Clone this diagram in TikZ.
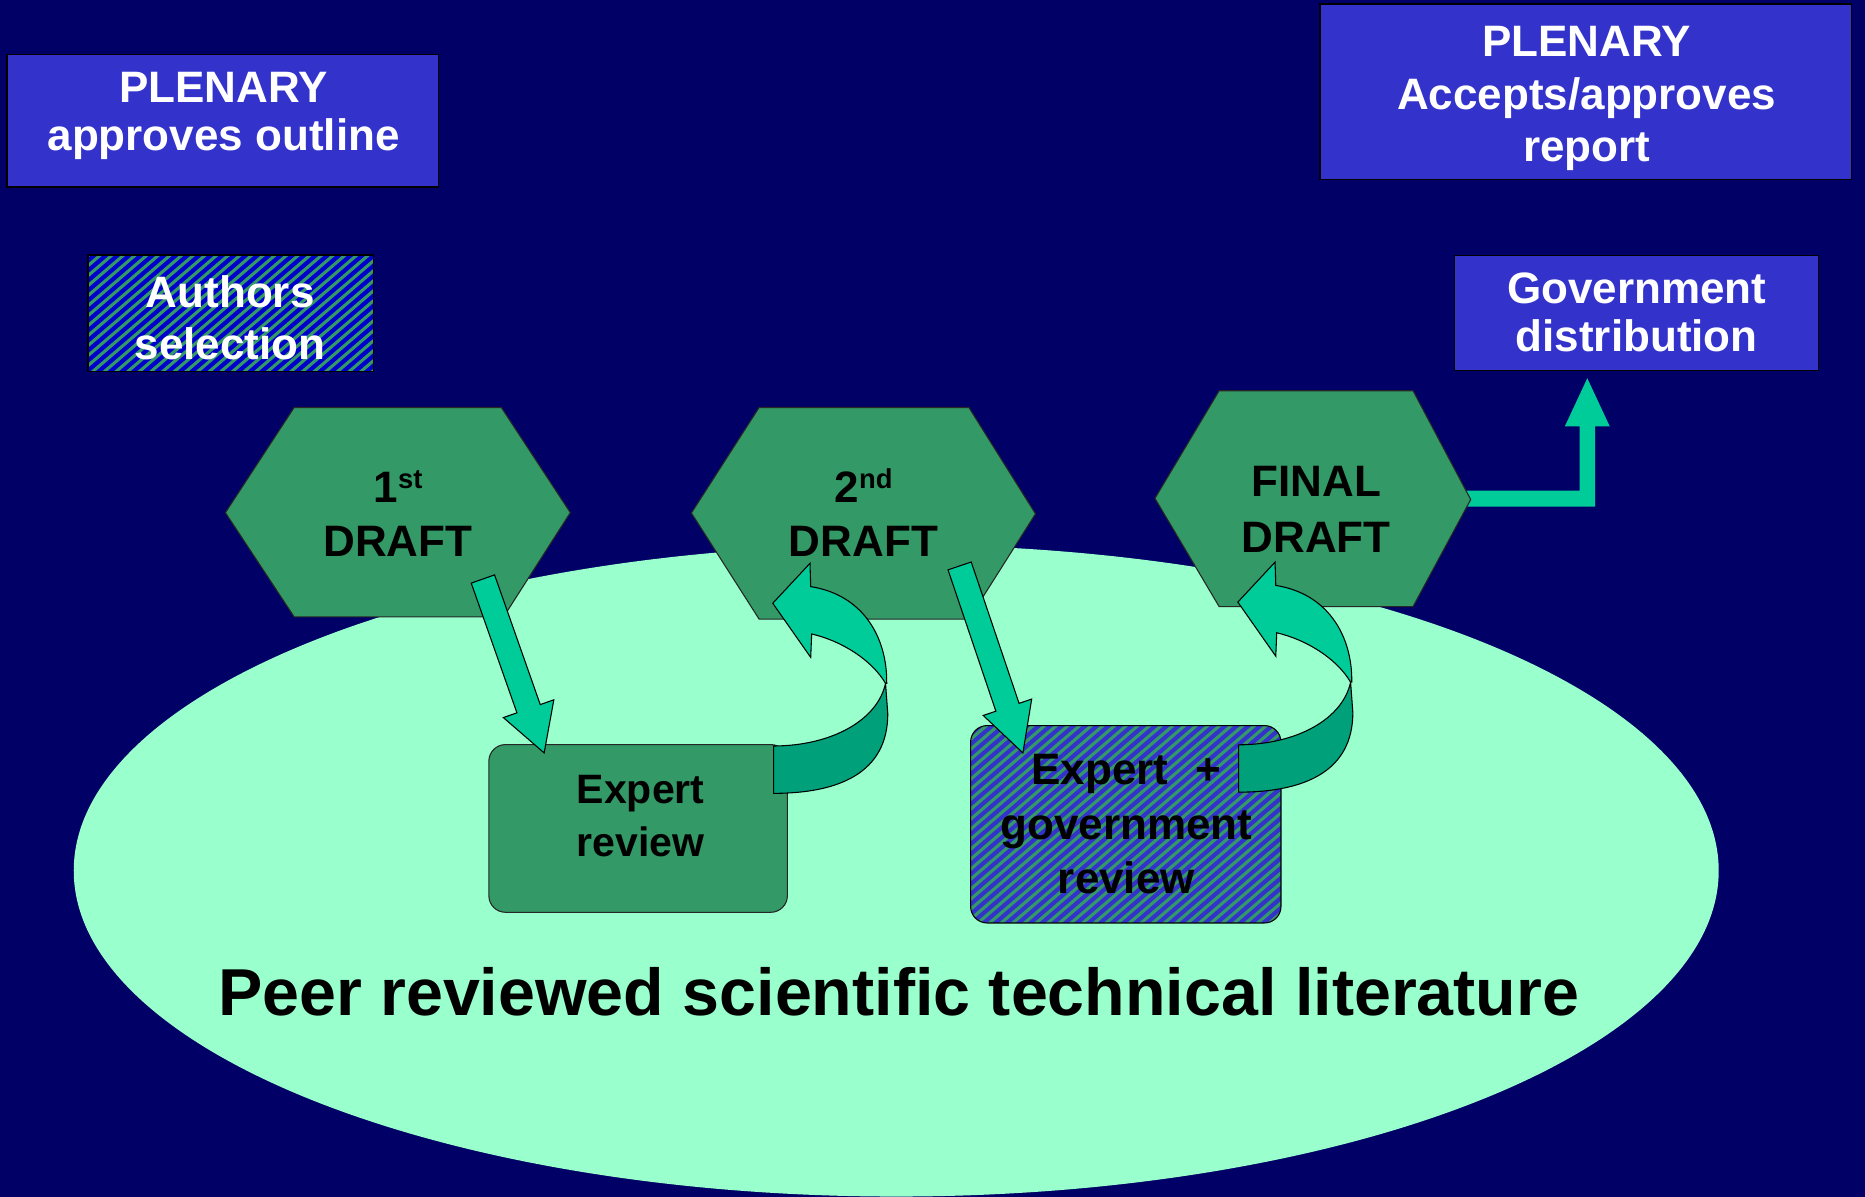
\documentclass[tikz,border=0pt]{standalone}
\usepackage{fontspec}
\setmainfont{Liberation Sans}
\usetikzlibrary{calc,shapes.geometric}
\definecolor{bgnavy}{HTML}{000066}
\definecolor{boxblue}{HTML}{3333CC}
\definecolor{hatchblue}{HTML}{0000CC}
\definecolor{seagreen}{HTML}{339966}
\definecolor{paleaqua}{HTML}{99FFCC}
\definecolor{tealfront}{HTML}{00CC99}
\definecolor{tealback}{HTML}{00A07A}
\newcommand\sizefont[2]{\bfseries\fontsize{#1}{#2}\selectfont}
\newcommand\blockarrow[5]{% start, tip, half shaft, half head, head length
  \coordinate (hb) at ($(#2)!#5!(#1)$);
  \filldraw[arrowfill]
    ($(#1)!#3!90:(#2)$) -- ($(hb)!#3!90:(#2)$) -- ($(hb)!#4!90:(#2)$) -- (#2)
    -- ($(hb)!#4!-90:(#2)$) -- ($(hb)!#3!-90:(#2)$) -- ($(#1)!#3!-90:(#2)$) -- cycle;}
\begin{document}
\begin{tikzpicture}[x=1pt,y=-1pt,
  plenbox/.style={draw=black, line width=1.3pt, fill=boxblue, inner sep=0pt},
  hatchframe/.style={draw=black, line width=1.3pt, inner sep=0pt},
  wlabel/.style={text=white, align=center, inner sep=0pt, font=\sizefont{37}{44}},
  blabel/.style={text=black, align=center, inner sep=0pt, font=\sizefont{37}{45}},
  hexshape/.style={fill=seagreen, draw=black!85, line width=0.9pt},
  arrowfill/.style={fill=tealfront, draw=black, line width=0.9pt},
  backfill/.style={fill=tealback, draw=black, line width=0.9pt},
  stripe/.style={seagreen, line width=2.6pt}]
\fill[bgnavy] (0,0) rectangle (1568,1006);
\useasboundingbox (0,0) rectangle (1568,1006);

% top boxes
\node[plenbox, minimum width=363pt, minimum height=111pt] (plenL) at (187.3,101.5) {};
\node[wlabel, anchor=north, font=\sizefont{37}{40}] (plenLtext) at (188,60.5) {PLENARY\\approves outline};
\node[plenbox, minimum width=446.6pt, minimum height=147.6pt] (plenR) at (1333.3,77.2) {};
\node[wlabel, anchor=north, font=\sizefont{37}{44.4}] (plenRtext) at (1334,21.7) {PLENARY\\Accepts/approves\\report};

% authors selection (hatched)
\begin{scope}
  \clip (73.8,214.2) rectangle (313.9,312.2);
  \fill[hatchblue] (73.8,214.2) rectangle (313.9,312.2);
  \foreach \k in {0,...,42} \draw[stripe] ({-70+9.8*\k},330) -- ++(140,-120);
\end{scope}
\node[hatchframe, minimum width=240pt, minimum height=98pt] (authors) at (193.85,263.2) {};
\node[wlabel, anchor=south] (authorstext) at (193.5,303) {Authors\\selection};

% government distribution
\node[plenbox, minimum width=306pt, minimum height=96.6pt] (gov) at (1376,263.3) {};
\node[wlabel, anchor=south, font=\sizefont{37}{40}] (govtext) at (1376,296) {Government\\distribution};

% literature ellipse
\node[ellipse, fill=paleaqua, inner sep=0pt, minimum width=1383pt, minimum height=548pt] (lit) at (753.5,732) {};
\node[anchor=base, inner sep=0pt, font=\sizefont{55.8}{60}] (littext) at (755.5,853.5) {Peer reviewed scientific technical literature};

% elbow arrow final draft -> government distribution
\coordinate (elbowstart) at (1225,419);
\coordinate (elbowtip) at (1334.5,318);
\fill[tealfront] (1225,412.5) -- (1328,412.5) -- (1328,358.5) -- (1315.6,358.5) -- (elbowtip)
  -- (1353.4,358.5) -- (1341,358.5) -- (1341,426) -- (1225,426) -- cycle;

% hexagons
\draw[hexshape] (189.5,431) -- (247.3,342.6) -- (421.5,342.6) -- (479.5,431) -- (423.4,518.6) -- (247.3,518.6) -- cycle;
\node[blabel, anchor=south] (draft1) at (334.6,467.7) {1\raisebox{11.6pt}{\fontsize{23}{23}\selectfont st}\\DRAFT};
\draw[hexshape] (581.3,431.3) -- (638.2,342.6) -- (814.6,342.6) -- (870.6,432) -- (814.6,520.5) -- (638.2,520.5) -- cycle;
\node[blabel, anchor=south] (draft2) at (726,467.7) {2\raisebox{11.6pt}{\fontsize{23}{23}\selectfont nd}\\DRAFT};
\draw[hexshape] (971,419) -- (1025,328.5) -- (1188,328.5) -- (1236.5,420) -- (1188,510) -- (1025,510) -- cycle;
\node[blabel, anchor=south, font=\sizefont{37}{47}] (draftF) at (1106.6,465) {FINAL\\DRAFT};

% review boxes
\node[draw=black!85, line width=0.9pt, fill=seagreen, rounded corners=14pt, minimum width=251pt, minimum height=141pt, inner sep=0pt] (expert) at (536.5,696.5) {};
\node[blabel, anchor=south, font=\sizefont{34.5}{45}] (experttext) at (538.6,720.9) {Expert\\review};
\begin{scope}
  \clip[rounded corners=14pt] (816,610) rectangle (1077,776);
  \fill[boxblue] (816,610) rectangle (1077,776);
  \foreach \k in {0,...,50} \draw[stripe] ({600+9.8*\k},790) -- ++(225,-193);
\end{scope}
\node[hatchframe, line width=0.9pt, rounded corners=14pt, minimum width=261pt, minimum height=166pt] (govrev) at (946.5,693) {};
\node[blabel, anchor=south, font=\sizefont{37}{45.5}] (govrevtext) at (947,751.5) {Expert\hspace{23pt}+\\government\\review};

% straight arrows
\coordinate (a1s) at (406,486.8);
\coordinate (a1t) at (457.5,633);
\blockarrow{a1s}{a1t}{10.4pt}{22.5pt}{39.4pt}
\coordinate (a2s) at (806.8,475.8);
\coordinate (a2t) at (860,633);
\blockarrow{a2s}{a2t}{10.3pt}{21.5pt}{40.5pt}

% curved return arrows
\foreach \dx/\dy/\nm in {0/0/r1, 391/-1/r2}{
\begin{scope}[shift={(\dx,\dy)}]
  \filldraw[backfill] (650.4,627.2) .. controls (700,627) and (738,605) .. (744.5,574.5)
     -- (746.4,600) .. controls (746.4,650) and (705,667) .. (650.4,667) -- cycle;
  \coordinate (\nm tip) at (649.7,507.2);
  \filldraw[arrowfill] (745.5,574.5) .. controls (746,535) and (725,500) .. (681.6,493.2)
     -- (681,473.6) -- (\nm tip) -- (681.6,552.7) -- (682.4,533)
     .. controls (708,539) and (733,555) .. (744.5,574.5) -- cycle;
\end{scope}}
\end{tikzpicture}
\end{document}
